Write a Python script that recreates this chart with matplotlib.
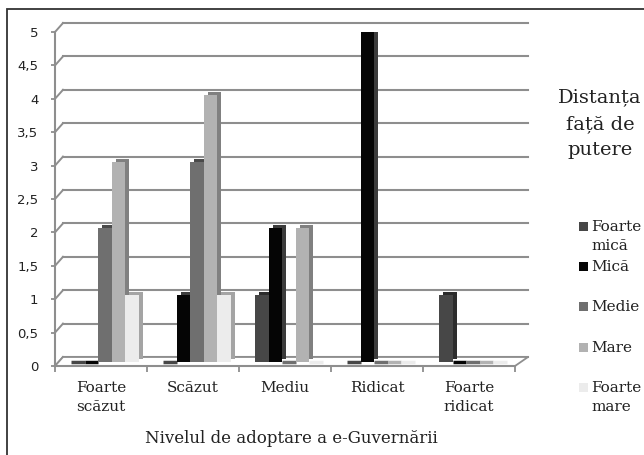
import matplotlib
matplotlib.use('Agg')
import matplotlib.pyplot as plt
import numpy as np
from matplotlib.transforms import ScaledTranslation
from matplotlib.patches import Rectangle, Polygon

# data
categories = ['Foarte\nscăzut', 'Scăzut', 'Mediu', 'Ridicat', 'Foarte\nridicat']
series = ['Foarte mică', 'Mică', 'Medie', 'Mare', 'Foarte mare']
foarte_mica = [0, 0, 1, 0, 1]
mica = [0, 1, 2, 5, 0]
medie = [2, 3, 0, 0, 0]
mare = [3, 4, 2, 0, 0]
foarte_mare = [1, 1, 0, 0, 0]
yticks = [0, 0.5, 1, 1.5, 2, 2.5, 3, 3.5, 4, 4.5, 5]

values = [foarte_mica, mica, medie, mare, foarte_mare]
front = ['#474747', '#050505', '#6f6f6f', '#b2b2b2', '#ececec']
side = ['#2c2c2c', '#3c3c3c', '#4a4a4a', '#808080', '#a4a4a4']
grid = '#8e8e8e'

W, H = 644, 455
fig = plt.figure(figsize=(W / 100, H / 100), dpi=100)

# outer chart frame (only top/left edges fall inside the image)
fig.add_artist(Rectangle((7 / W, -0.1), 1.2, 1.1 - 9 / H, transform=fig.transFigure,
                         fill=False, ec='#333333', lw=1.3))

ax = fig.add_axes([55 / W, 89 / H, 460 / W, 334 / H])
ax.set_xlim(0, 5)
ax.set_ylim(0, 5)
ax.patch.set_visible(False)

# pixel -> data units, for the fake 3d depth
ux = 460 / 5
uy = 334 / 5
bx, by = 8 / ux, 9 / uy
xr = (528 - 55) / ux

# back wall gridlines and side-wall connectors
for v in yticks:
    ax.plot([0, bx], [v, v + by], color=grid, lw=1.4, clip_on=False, zorder=1)
    ax.plot([bx, xr], [v + by, v + by], color=grid, lw=1.5, clip_on=False, zorder=1)

# floor slab
ax.add_patch(Polygon([(0, 0), (5, 0), (xr, by), (bx, by)], closed=True,
                     fc='white', ec=grid, lw=1.3, clip_on=False, zorder=2))

# bars: darker copy shifted behind gives the side/top faces
bw = 0.148
bar_off = ax.transData + ScaledTranslation(4 / 100, 4 / 100, fig.dpi_scale_trans)
side_off = ax.transData + ScaledTranslation(8 / 100, 7 / 100, fig.dpi_scale_trans)
x = np.arange(len(categories)) + 0.5
for j, vals in enumerate(values):
    xs = x + (j - 2) * bw
    ax.bar(xs, vals, bw, color=side[j], lw=0, transform=side_off, zorder=3 + 2 * j)
    ax.bar(xs, vals, bw, color=front[j], edgecolor=front[j],
           linewidth=[2.5 if v == 0 else 0 for v in vals],
           transform=bar_off, zorder=4 + 2 * j)

for s in ['top', 'right']:
    ax.spines[s].set_visible(False)
for s in ['left', 'bottom']:
    ax.spines[s].set_color(grid)
    ax.spines[s].set_linewidth(1.5)
    ax.spines[s].set_zorder(2.5)

ax.set_yticks(yticks)
ax.set_yticklabels([f'{v:g}'.replace('.', ',') for v in yticks],
                   fontsize=9.5, family='DejaVu Sans', color='#222222')
ax.tick_params(axis='y', length=3, width=1.3, color=grid, pad=9)

ax.set_xticks(x)
ax.set_xticklabels(categories, fontsize=11, family='DejaVu Serif', color='#222222',
                   linespacing=1.45)
ax.set_xticks(np.arange(len(categories) + 1), minor=True)
ax.tick_params(axis='x', which='major', length=0, pad=11)
ax.tick_params(axis='x', which='minor', length=4, width=1.3, color=grid)

fig.text(291 / W, 1 - 443 / H, 'Nivelul de adoptare a e-Guvernării', ha='center',
         va='baseline', fontsize=12, family='DejaVu Serif', color='#222222')

# legend title
for line, yb in zip(['Distanța', 'față de', 'putere'], [102, 129, 155]):
    fig.text(600 / W, 1 - yb / H, line, ha='center', va='baseline', fontsize=14,
             family='DejaVu Serif', color='#222222')

# legend entries
entry_y = [231, 271, 311, 352, 392]
for name, col, yb in zip(series, front, entry_y):
    fig.add_artist(Rectangle((579 / W, 1 - yb / H), 9 / W, 9 / H,
                             transform=fig.transFigure, fc=col, ec='none'))
    words = name.split(' ')
    for k, wd in enumerate(words):
        fig.text(591 / W, 1 - (yb + 19 * k) / H, wd, ha='left', va='baseline',
                 fontsize=11, family='DejaVu Serif', color='#222222')

fig.savefig('out.png', dpi=100)
